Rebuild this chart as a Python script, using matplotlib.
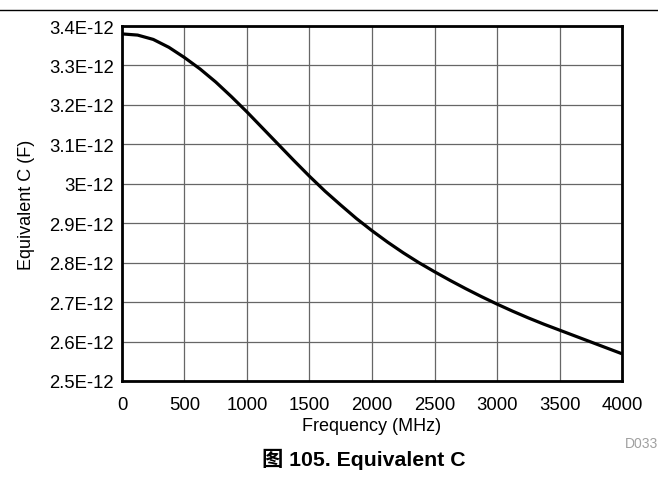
import numpy as np
import matplotlib
matplotlib.use("Agg")
import matplotlib.pyplot as plt
from matplotlib.lines import Line2D

plt.rcParams['font.family'] = ['Liberation Sans', 'Noto Sans CJK SC', 'DejaVu Sans']

# frequency (MHz) vs equivalent capacitance (units of 1E-12 F)
freq = [0, 125, 250, 375, 500, 625, 750, 875, 1000, 1125, 1250, 1375, 1500, 1625, 1750, 1875,
        2000, 2125, 2250, 2375, 2500, 2625, 2750, 2875, 3000, 3125, 3250, 3375, 3500, 3625,
        3750, 3875, 4000]
cap = [3.380, 3.377, 3.366, 3.346, 3.320, 3.291, 3.258, 3.221, 3.182, 3.141, 3.100, 3.059,
       3.019, 2.981, 2.946, 2.912, 2.881, 2.852, 2.825, 2.800, 2.777, 2.755, 2.734, 2.714,
       2.695, 2.677, 2.660, 2.644, 2.629, 2.614, 2.599, 2.584, 2.569]
yticks = [2.5, 2.6, 2.7, 2.8, 2.9, 3.0, 3.1, 3.2, 3.3, 3.4]
ylabels = ['2.5E-12', '2.6E-12', '2.7E-12', '2.8E-12', '2.9E-12', '3E-12',
           '3.1E-12', '3.2E-12', '3.3E-12', '3.4E-12']
xticks = [0, 500, 1000, 1500, 2000, 2500, 3000, 3500, 4000]

fig = plt.figure(figsize=(6.58, 4.85), dpi=100)
ax = fig.add_axes([0.1854, 0.2124, 0.7599, 0.7319])

ax.plot(freq, cap, color='black', linewidth=2.3, solid_capstyle='butt', zorder=3)
ax.set_xlim(0, 4000)
ax.set_ylim(2.5, 3.4)
ax.set_xticks(xticks)
ax.set_xticklabels([str(t) for t in xticks], fontsize=13.3)
ax.set_yticks(yticks)
ax.set_yticklabels(ylabels, fontsize=13.3)
ax.tick_params(axis='x', length=0, pad=10.5)
ax.tick_params(axis='y', length=0, pad=6)
ax.grid(True, color='#666666', linewidth=0.9)
ax.set_axisbelow(True)
for s in ax.spines.values():
    s.set_linewidth(2.0)
    s.set_color('black')

ax.set_xlabel('Frequency (MHz)', fontsize=13, labelpad=3)
ax.set_ylabel('Equivalent C (F)', fontsize=13, labelpad=10)

fig.add_artist(Line2D([0, 1], [1 - 11 / 485, 1 - 11 / 485], color='black', linewidth=1.0))
fig.text(625 / 658, 1 - 444 / 485, 'D033', fontsize=10, color='#a0a0a0', va='center', ha='left')
fig.text(364 / 658, 1 - 459 / 485, '图 105. Equivalent C', fontsize=15.3, fontweight='bold',
         ha='center', va='center')

fig.savefig('out.png', dpi=100)
